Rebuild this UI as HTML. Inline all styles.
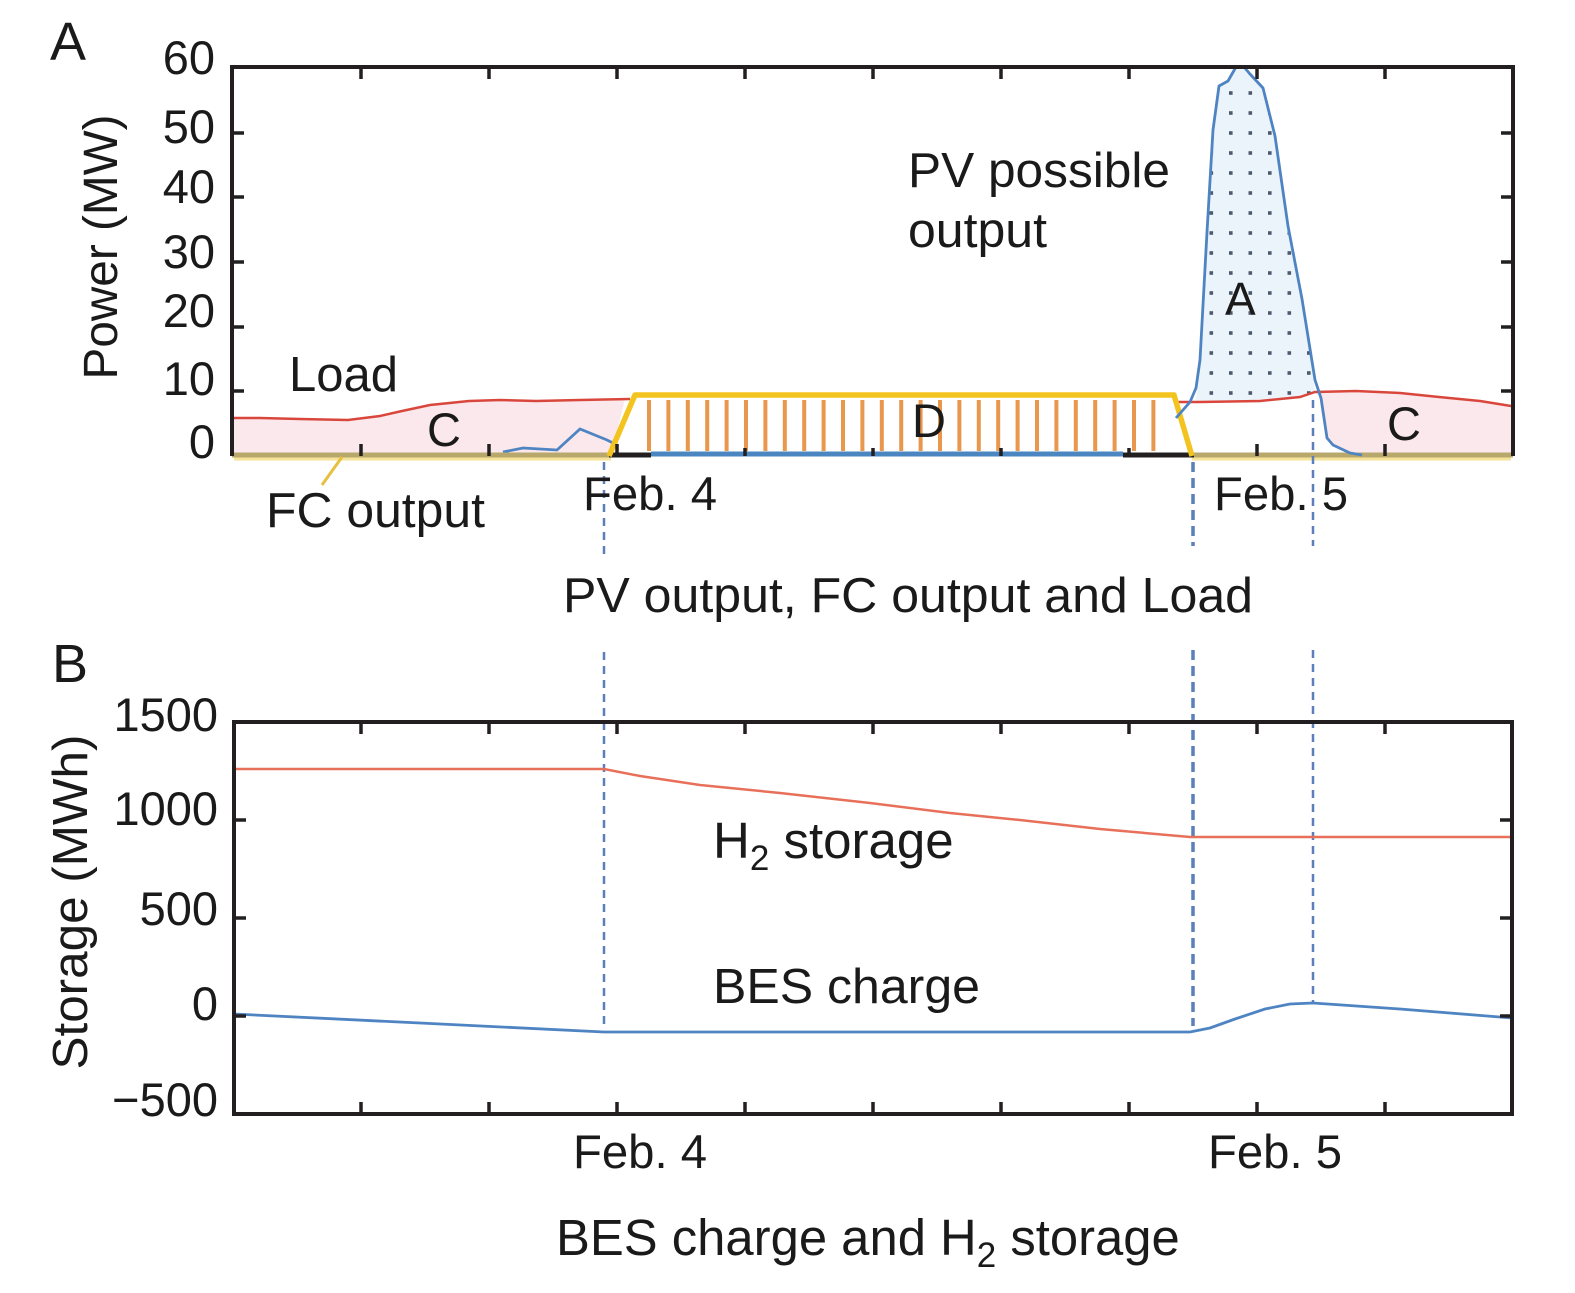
<!DOCTYPE html>
<html>
<head>
<meta charset="utf-8">
<style>
  html,body{margin:0;padding:0;background:#fff;}
  svg{display:block;}
  text{font-family:"Liberation Sans",Arial,sans-serif;fill:#1a1a1a;}
</style>
</head>
<body>
<svg width="1575" height="1293" viewBox="0 0 1575 1293" xmlns="http://www.w3.org/2000/svg">
  <defs>
    <pattern id="dots" patternUnits="userSpaceOnUse" x="1201.5" y="83" width="19.5" height="20">
      <rect x="8" y="8.2" width="3.6" height="3.6" fill="#4d5a6e"/>
    </pattern>
    <clipPath id="clipA">
      <polygon points="1196,400 1200,360 1207,232 1213,130 1219,86 1228,81 1236,67 1244,67 1250,74 1263,88 1275,136 1288,226 1302,299 1315,392 1300,397 1260,401 1200,402"/>
    </clipPath>
  </defs>
  <rect width="1575" height="1293" fill="#fff"/>

  <!-- ================= CHART A ================= -->
  <polygon fill="#fbe8ec" points="234,418 260,418 300,419 348,420 380,416 402,411 430,405 469,401 500,400 536,401 580,400 625,399 611,455 234,455"/>
  <polygon fill="#fbe8ec" points="1315,392 1356,391 1400,393 1439,397 1480,401 1511,406 1511,455 1350,453 1333,445 1327,438 1321,398"/>

  <polygon fill="#ecf4fb" points="1196,400 1200,360 1207,232 1213,130 1219,86 1228,81 1236,67 1244,67 1250,74 1263,88 1275,136 1288,226 1302,299 1315,392 1300,397 1260,401 1200,402"/>
  <rect x="1190" y="60" width="140" height="345" fill="url(#dots)" clip-path="url(#clipA)"/>

  <g stroke="#e8974c" stroke-width="4">
    <line x1="649" y1="400" x2="649" y2="451"/>
    <line x1="668.4" y1="400" x2="668.4" y2="451"/>
    <line x1="687.8" y1="400" x2="687.8" y2="451"/>
    <line x1="707.2" y1="400" x2="707.2" y2="451"/>
    <line x1="726.6" y1="400" x2="726.6" y2="451"/>
    <line x1="746" y1="400" x2="746" y2="451"/>
    <line x1="765.4" y1="400" x2="765.4" y2="451"/>
    <line x1="784.8" y1="400" x2="784.8" y2="451"/>
    <line x1="804.2" y1="400" x2="804.2" y2="451"/>
    <line x1="823.6" y1="400" x2="823.6" y2="451"/>
    <line x1="843" y1="400" x2="843" y2="451"/>
    <line x1="862.4" y1="400" x2="862.4" y2="451"/>
    <line x1="881.8" y1="400" x2="881.8" y2="451"/>
    <line x1="901.2" y1="400" x2="901.2" y2="451"/>
    <line x1="920.6" y1="400" x2="920.6" y2="451"/>
    <line x1="940" y1="400" x2="940" y2="451"/>
    <line x1="959.4" y1="400" x2="959.4" y2="451"/>
    <line x1="978.8" y1="400" x2="978.8" y2="451"/>
    <line x1="998.2" y1="400" x2="998.2" y2="451"/>
    <line x1="1017.6" y1="400" x2="1017.6" y2="451"/>
    <line x1="1037" y1="400" x2="1037" y2="451"/>
    <line x1="1056.4" y1="400" x2="1056.4" y2="451"/>
    <line x1="1075.8" y1="400" x2="1075.8" y2="451"/>
    <line x1="1095.2" y1="400" x2="1095.2" y2="451"/>
    <line x1="1114.6" y1="400" x2="1114.6" y2="451"/>
    <line x1="1134" y1="400" x2="1134" y2="451"/>
    <line x1="1153.4" y1="400" x2="1153.4" y2="451"/>
  </g>

  <polyline fill="none" stroke="#d9473c" stroke-width="2.5" points="234,418 260,418 300,419 348,420 380,416 402,411 430,405 469,401 500,400 536,401 580,400 630,399"/>
  <polyline fill="none" stroke="#d9473c" stroke-width="2.5" points="1176,402 1200,402 1260,401 1300,397 1315,392 1356,391 1400,393 1439,397 1480,401 1511,406"/>

  <polyline fill="none" stroke="#4f84c2" stroke-width="2.8" points="503,452 523,448 557,450 580,429 607,440 617,445"/>

  <line x1="234" y1="459" x2="611" y2="459" stroke="#f6e39a" stroke-width="3"/>
  <line x1="1192" y1="459" x2="1511" y2="459" stroke="#f6e39a" stroke-width="3"/>
  <line x1="232" y1="455" x2="611" y2="455" stroke="#b8a86c" stroke-width="5"/>
  <line x1="1192" y1="455" x2="1513" y2="455" stroke="#b8a86c" stroke-width="5"/>
  <line x1="609" y1="455" x2="651" y2="455" stroke="#231f20" stroke-width="5"/>
  <line x1="651" y1="454" x2="1123" y2="454" stroke="#4a86c0" stroke-width="5"/>
  <line x1="1123" y1="455" x2="1194" y2="455" stroke="#231f20" stroke-width="5"/>

  <polyline fill="none" stroke="#f3c41f" stroke-width="5.5" stroke-linejoin="round" points="609,456 635,395 1174,395 1192,456"/>

  <polyline fill="none" stroke="#4f84c2" stroke-width="2.8" stroke-linejoin="round" points="1176,418 1190,402 1196,388 1200,360 1207,232 1213,130 1219,86 1228,81 1236,67 1244,67 1250,74 1263,88 1275,136 1288,226 1302,299 1315,380 1321,398 1327,438 1333,445 1350,453 1362,455"/>

  <line x1="342" y1="457" x2="322" y2="485" stroke="#e8c040" stroke-width="3"/>

  <polyline fill="none" stroke="#231f20" stroke-width="4" points="232,456 232,67 1513,67 1513,456"/>
  <g stroke="#231f20" stroke-width="3.5">
    <line x1="361" y1="67" x2="361" y2="79"/><line x1="489" y1="67" x2="489" y2="79"/>
    <line x1="617" y1="67" x2="617" y2="79"/><line x1="745" y1="67" x2="745" y2="79"/>
    <line x1="873" y1="67" x2="873" y2="79"/><line x1="1001" y1="67" x2="1001" y2="79"/>
    <line x1="1129" y1="67" x2="1129" y2="79"/><line x1="1257" y1="67" x2="1257" y2="79"/>
    <line x1="1385" y1="67" x2="1385" y2="79"/>
    <line x1="361" y1="456" x2="361" y2="444"/><line x1="489" y1="456" x2="489" y2="444"/>
    <line x1="617" y1="456" x2="617" y2="444"/><line x1="745" y1="456" x2="745" y2="448"/>
    <line x1="873" y1="456" x2="873" y2="448"/><line x1="1001" y1="456" x2="1001" y2="448"/>
    <line x1="1129" y1="456" x2="1129" y2="448"/><line x1="1257" y1="456" x2="1257" y2="444"/>
    <line x1="1385" y1="456" x2="1385" y2="444"/>
    <line x1="232" y1="133" x2="244" y2="133"/><line x1="232" y1="197" x2="244" y2="197"/>
    <line x1="232" y1="262" x2="244" y2="262"/><line x1="232" y1="327" x2="244" y2="327"/>
    <line x1="232" y1="391" x2="244" y2="391"/>
    <line x1="1513" y1="133" x2="1501" y2="133"/><line x1="1513" y1="197" x2="1501" y2="197"/>
    <line x1="1513" y1="262" x2="1501" y2="262"/><line x1="1513" y1="327" x2="1501" y2="327"/>
    <line x1="1513" y1="391" x2="1501" y2="391"/>
  </g>

  <g stroke="#5b7fb8" fill="none">
    <line x1="604" y1="462" x2="604" y2="556" stroke-width="2.5" stroke-dasharray="8,6"/>
    <line x1="1193" y1="462" x2="1193" y2="546" stroke-width="3.5" stroke-dasharray="10,6"/>
    <line x1="1313" y1="400" x2="1313" y2="546" stroke-width="2.5" stroke-dasharray="8,6"/>
    <line x1="604" y1="652" x2="604" y2="1030" stroke-width="2.5" stroke-dasharray="8,6"/>
    <line x1="1193" y1="650" x2="1193" y2="1026" stroke-width="3.5" stroke-dasharray="10,6"/>
    <line x1="1313" y1="650" x2="1313" y2="1003" stroke-width="2.5" stroke-dasharray="8,6"/>
  </g>

  <text x="50" y="60" font-size="54">A</text>
  <g font-size="47" text-anchor="end">
    <text x="215" y="74">60</text>
    <text x="215" y="143">50</text>
    <text x="215" y="203">40</text>
    <text x="215" y="268">30</text>
    <text x="215" y="327">20</text>
    <text x="215" y="395">10</text>
    <text x="215" y="458">0</text>
  </g>
  <text transform="translate(117,247) rotate(-90)" font-size="48" text-anchor="middle" textLength="265" lengthAdjust="spacingAndGlyphs">Power (MW)</text>
  <text x="583" y="510" font-size="47" textLength="134" lengthAdjust="spacingAndGlyphs">Feb. 4</text>
  <text x="1214" y="510" font-size="47" textLength="134" lengthAdjust="spacingAndGlyphs">Feb. 5</text>
  <text x="908" y="187" font-size="49" textLength="262" lengthAdjust="spacingAndGlyphs">PV possible</text>
  <text x="908" y="247" font-size="49" textLength="139" lengthAdjust="spacingAndGlyphs">output</text>
  <text x="1225" y="315" font-size="46">A</text>
  <text x="289" y="391" font-size="49" textLength="109" lengthAdjust="spacingAndGlyphs">Load</text>
  <text x="427" y="446" font-size="47">C</text>
  <text x="1387" y="440" font-size="47">C</text>
  <text x="912" y="437" font-size="47">D</text>
  <text x="266" y="527" font-size="49" textLength="219" lengthAdjust="spacingAndGlyphs">FC output</text>
  <text x="563" y="612" font-size="49" textLength="690" lengthAdjust="spacingAndGlyphs">PV output, FC output and Load</text>

  <!-- ================= CHART B ================= -->
  <polyline fill="none" stroke="#e8705a" stroke-width="2.5" points="234,769 604,769 640,776 700,785 780,793 870,803 950,813 1020,820 1100,829 1190,837 1512,837"/>
  <polyline fill="none" stroke="#4f84c2" stroke-width="2.8" points="234,1014 420,1023 604,1032 1190,1032 1210,1028 1235,1019 1265,1009 1290,1004 1313,1003 1400,1009 1512,1018"/>

  <rect x="234" y="722" width="1278" height="392" fill="none" stroke="#231f20" stroke-width="4"/>
  <g stroke="#231f20" stroke-width="3.5">
    <line x1="361" y1="722" x2="361" y2="734"/><line x1="489" y1="722" x2="489" y2="734"/>
    <line x1="617" y1="722" x2="617" y2="734"/><line x1="745" y1="722" x2="745" y2="734"/>
    <line x1="873" y1="722" x2="873" y2="734"/><line x1="1001" y1="722" x2="1001" y2="734"/>
    <line x1="1129" y1="722" x2="1129" y2="734"/><line x1="1257" y1="722" x2="1257" y2="734"/>
    <line x1="1385" y1="722" x2="1385" y2="734"/>
    <line x1="361" y1="1114" x2="361" y2="1102"/><line x1="489" y1="1114" x2="489" y2="1102"/>
    <line x1="617" y1="1114" x2="617" y2="1102"/><line x1="745" y1="1114" x2="745" y2="1102"/>
    <line x1="873" y1="1114" x2="873" y2="1102"/><line x1="1001" y1="1114" x2="1001" y2="1102"/>
    <line x1="1129" y1="1114" x2="1129" y2="1102"/><line x1="1257" y1="1114" x2="1257" y2="1102"/>
    <line x1="1385" y1="1114" x2="1385" y2="1102"/>
    <line x1="234" y1="820" x2="246" y2="820"/><line x1="234" y1="918" x2="246" y2="918"/>
    <line x1="234" y1="1016" x2="246" y2="1016"/>
    <line x1="1512" y1="820" x2="1500" y2="820"/><line x1="1512" y1="918" x2="1500" y2="918"/>
    <line x1="1512" y1="1016" x2="1500" y2="1016"/>
  </g>

  <text x="52" y="682" font-size="54">B</text>
  <g font-size="47" text-anchor="end">
    <text x="218" y="731">1500</text>
    <text x="218" y="825">1000</text>
    <text x="218" y="925">500</text>
    <text x="218" y="1020">0</text>
    <text x="218" y="1116">−500</text>
  </g>
  <text transform="translate(87,902) rotate(-90)" font-size="49" text-anchor="middle" textLength="335" lengthAdjust="spacingAndGlyphs">Storage (MWh)</text>
  <text x="573" y="1168" font-size="47" textLength="134" lengthAdjust="spacingAndGlyphs">Feb. 4</text>
  <text x="1208" y="1168" font-size="47" textLength="134" lengthAdjust="spacingAndGlyphs">Feb. 5</text>
  <text x="713" y="858" font-size="51">H<tspan font-size="35" dy="12">2</tspan><tspan dy="-12"> storage</tspan></text>
  <text x="713" y="1003" font-size="49" textLength="267" lengthAdjust="spacingAndGlyphs">BES charge</text>
  <text x="556" y="1255" font-size="50.8">BES charge and H<tspan font-size="35" dy="12">2</tspan><tspan dy="-12"> storage</tspan></text>
</svg>
</body>
</html>
